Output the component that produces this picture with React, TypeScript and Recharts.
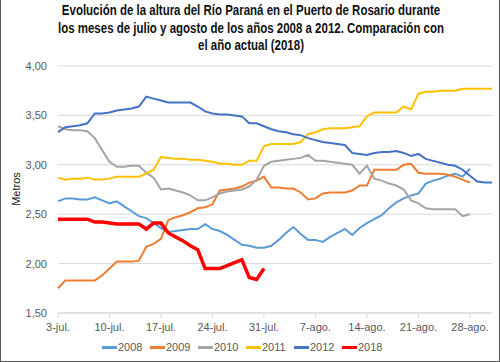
import { LineChart, Line, XAxis, YAxis, CartesianGrid, Legend } from "recharts";

const TITLE = [
  "Evolución de la altura del Río Paraná en el Puerto de Rosario durante",
  "los meses de julio y agosto de los años 2008 a 2012. Comparación con",
  "el año actual (2018)",
];

// day 0 = 3 de julio, one value per day (metros)
const TICK_DAYS = [0, 7, 14, 21, 28, 35, 42, 49, 56];
const TICK_LABELS = ["3-jul.", "10-jul.", "17-jul.", "24-jul.", "31-jul.", "7-ago.", "14-ago.", "21-ago.", "28-ago."];
const Y_TICKS = [1.5, 2, 2.5, 3, 3.5, 4];

const H2008 = [
  2.63, 2.66, 2.66, 2.65, 2.65, 2.67, 2.64, 2.61, 2.63, 2.58, 2.53, 2.48, 2.46, 2.41, 2.36, 2.32, 2.33, 2.34, 2.35, 2.35,
  2.4, 2.35, 2.33, 2.29, 2.24, 2.19, 2.18, 2.16, 2.16, 2.18, 2.24, 2.31, 2.37, 2.3, 2.24, 2.24, 2.22, 2.27, 2.31, 2.35,
  2.29, 2.36, 2.41, 2.45, 2.49, 2.56, 2.62, 2.66, 2.69, 2.71, 2.81, 2.84, 2.86, 2.89, 2.91, 2.88, 2.96,
];
const H2009 = [
  1.75, 1.83, 1.83, 1.83, 1.83, 1.83, 1.88, 1.95, 2.02, 2.02, 2.02, 2.03, 2.17, 2.2, 2.25, 2.44, 2.47, 2.49, 2.52, 2.56,
  2.57, 2.6, 2.74, 2.75, 2.76, 2.78, 2.82, 2.84, 2.88, 2.77, 2.77, 2.76, 2.76, 2.72, 2.65, 2.66, 2.71, 2.72, 2.72, 2.72,
  2.74, 2.79, 2.79, 2.95, 2.95, 2.95, 2.95, 3.0, 3.01, 2.92, 2.91, 2.91, 2.91, 2.9, 2.88, 2.85, 2.82,
];
const H2010 = [
  3.39, 3.36, 3.35, 3.35, 3.34, 3.27, 3.15, 3.03, 2.98, 2.98, 2.99, 2.99, 2.92, 2.87, 2.75, 2.76, 2.74, 2.72, 2.69, 2.64,
  2.64, 2.67, 2.71, 2.73, 2.74, 2.75, 2.78, 2.85, 2.99, 3.03, 3.04, 3.05, 3.06, 3.07, 3.1, 3.04, 3.04, 3.03, 3.02, 3.01,
  3.0, 2.91, 2.99, 2.86, 2.84, 2.81, 2.79, 2.75, 2.64, 2.61, 2.56, 2.55, 2.55, 2.55, 2.55, 2.48, 2.5,
];
const H2011 = [
  2.87, 2.85, 2.86, 2.86, 2.87, 2.85, 2.85, 2.86, 2.88, 2.88, 2.88, 2.88, 2.91, 2.95, 3.08, 3.07, 3.06, 3.06, 3.05, 3.05,
  3.04, 3.03, 3.01, 3.01, 3.0, 3.0, 3.04, 3.04, 3.19, 3.21, 3.21, 3.21, 3.21, 3.23, 3.31, 3.33, 3.36, 3.37, 3.37, 3.37,
  3.38, 3.39, 3.49, 3.53, 3.53, 3.53, 3.53, 3.59, 3.56, 3.72, 3.74, 3.74, 3.75, 3.75, 3.75, 3.77, 3.77, 3.77, 3.77, 3.77,
];
const H2012 = [
  3.33, 3.38, 3.39, 3.4, 3.42, 3.52, 3.52, 3.53, 3.55, 3.56, 3.57, 3.59, 3.69, 3.67, 3.65, 3.63, 3.63, 3.63, 3.63, 3.59,
  3.54, 3.52, 3.51, 3.51, 3.5, 3.49, 3.42, 3.42, 3.39, 3.36, 3.34, 3.33, 3.31, 3.3, 3.27, 3.25, 3.23, 3.22, 3.21, 3.2,
  3.12, 3.11, 3.1, 3.12, 3.13, 3.13, 3.14, 3.12, 3.09, 3.11, 3.06, 3.04, 3.02, 3.0, 2.99, 2.95, 2.89, 2.83, 2.82, 2.82,
];
const H2018 = [
  2.45, 2.45, 2.45, 2.45, 2.45, 2.42, 2.42, 2.41, 2.4, 2.4, 2.4, 2.4, 2.35, 2.41, 2.41, 2.31, 2.27, 2.23, 2.18, 2.14,
  1.95, 1.95, 1.95, 1.98, 2.01, 2.04, 1.86, 1.84, 1.95,
];

const SERIES = [
  { key: "2008", values: H2008, color: "#5B9BD5", width: 2 },
  { key: "2009", values: H2009, color: "#ED7D31", width: 2 },
  { key: "2010", values: H2010, color: "#A5A5A5", width: 2 },
  { key: "2011", values: H2011, color: "#FFC000", width: 2 },
  { key: "2012", values: H2012, color: "#4472C4", width: 2 },
  { key: "2018", values: H2018, color: "#FF0000", width: 3.5 },
];

const NUM_DAYS = 60;

const chartData = Array.from({ length: NUM_DAYS }, (_, i) => {
  const row: Record<string, number | null> = { day: i };
  for (const s of SERIES) row[s.key] = i < s.values.length ? s.values[i] : null;
  return row;
});

const FONT = "'Liberation Sans', Arial, sans-serif";

function LegendRow() {
  return (
    <div style={{ display: "flex", justifyContent: "center", fontFamily: FONT, fontSize: 11, color: "#595959" }}>
      {SERIES.map((s) => (
        <div key={s.key} style={{ display: "flex", alignItems: "center", width: 48, flex: "none" }}>
          <span style={{ display: "inline-block", width: 15, height: 3, background: s.color, marginRight: 1 }} />
          <span>{s.key}</span>
        </div>
      ))}
    </div>
  );
}

export default function App() {
  return (
    <div
      style={{
        position: "relative",
        width: 500,
        height: 362,
        boxSizing: "border-box",
        borderLeft: "1px solid #595959",
        borderRight: "1px solid #595959",
        borderBottom: "1px solid #595959",
        background: "#fff",
      }}
    >
      <style>{`body{margin:0}`}</style>
      <div
        style={{
          position: "absolute",
          top: 2,
          left: 0,
          width: 500,
          textAlign: "center",
          fontFamily: FONT,
          fontWeight: "bold",
          fontSize: 14,
          lineHeight: "17.5px",
          color: "#111",
          whiteSpace: "nowrap",
          transform: "scaleX(0.82)",
          transformOrigin: "250px 0",
        }}
      >
        {TITLE.map((t) => (
          <div key={t}>{t}</div>
        ))}
      </div>
      <div
        style={{
          position: "absolute",
          left: 15,
          top: 189,
          transform: "translate(-50%, -50%) rotate(-90deg)",
          fontFamily: FONT,
          fontSize: 11,
          color: "#1a1a1a",
        }}
      >
        Metros
      </div>
      <div style={{ position: "absolute", left: -1, top: 0 }}>
        <LineChart width={500} height={362} data={chartData} margin={{ top: 66, right: 8, bottom: 5, left: 0 }}>
          <CartesianGrid vertical={false} stroke="#d9d9d9" />
          <XAxis
            dataKey="day"
            type="number"
            domain={[0, NUM_DAYS - 1]}
            ticks={TICK_DAYS}
            tickFormatter={(v: number) => TICK_LABELS[TICK_DAYS.indexOf(v)]}
            interval={0}
            height={28}
            tickSize={5}
            tickMargin={5}
            axisLine={{ stroke: "#d9d9d9" }}
            tickLine={{ stroke: "#d9d9d9" }}
            tick={{ fontSize: 11, fill: "#595959", fontFamily: FONT }}
          />
          <YAxis
            type="number"
            domain={[1.5, 4]}
            ticks={Y_TICKS}
            width={58}
            axisLine={false}
            tickLine={false}
            tickMargin={5}
            tickFormatter={(v: number) => v.toFixed(2).replace(".", ",")}
            tick={{ fontSize: 11, fill: "#595959", fontFamily: FONT }}
          />
          <Legend verticalAlign="bottom" height={16} content={() => <LegendRow />} />
          {SERIES.map((s) => (
            <Line
              key={s.key}
              dataKey={s.key}
              stroke={s.color}
              strokeWidth={s.width}
              dot={false}
              type="linear"
              isAnimationActive={false}
            />
          ))}
        </LineChart>
      </div>
    </div>
  );
}
